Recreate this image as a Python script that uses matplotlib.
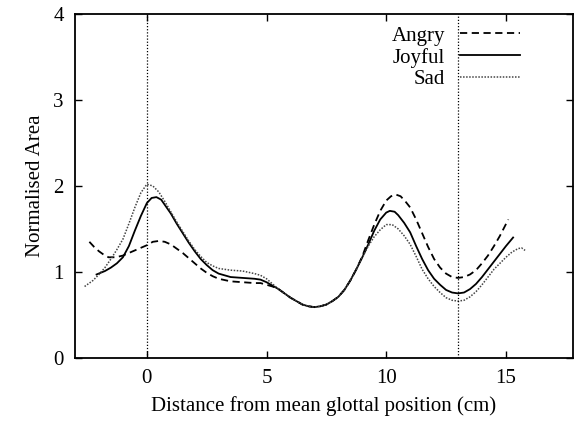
import matplotlib
matplotlib.use('Agg')
import matplotlib.pyplot as plt

plt.rcParams['font.family'] = ['Liberation Serif', 'DejaVu Serif']
plt.rcParams['font.size'] = 15

# values
# stretch where all three curves lie on top of each other
shared_x = [5.75, 6.0, 6.25, 6.5, 6.75, 7.0, 7.25, 7.5, 7.75, 8.0, 8.25, 8.5, 8.75]
shared_y = [0.75, 0.70, 0.66, 0.62, 0.60, 0.59, 0.60, 0.62, 0.66, 0.71, 0.79, 0.90, 1.03]

angry_x = ([-2.4, -2.2, -2.0, -1.8, -1.6, -1.3, -1.0, -0.5, 0.0, 0.25, 0.5, 0.75, 1.0, 1.25, 1.5,
            1.75, 2.0, 2.25, 2.5, 2.75, 3.0, 3.5, 4.0, 4.5, 4.75, 5.0, 5.25, 5.5] + shared_x +
           [9.0, 9.25, 9.5, 9.75, 10.0, 10.2, 10.4, 10.6, 10.8, 11.0, 11.25, 11.5, 11.75, 12.0,
            12.25, 12.5, 12.75, 13.0, 13.25, 13.5, 13.75, 14.0, 14.25, 14.5, 14.75, 15.1])
angry_y = ([1.35, 1.29, 1.24, 1.20, 1.17, 1.17, 1.19, 1.25, 1.31, 1.35, 1.36, 1.35, 1.32, 1.27, 1.22,
            1.16, 1.10, 1.04, 0.99, 0.95, 0.92, 0.89, 0.88, 0.87, 0.87, 0.85, 0.83, 0.80] + shared_y +
           [1.18, 1.37, 1.55, 1.71, 1.83, 1.88, 1.90, 1.88, 1.82, 1.75, 1.61, 1.45, 1.29, 1.15,
            1.05, 0.98, 0.94, 0.93, 0.94, 0.97, 1.02, 1.10, 1.19, 1.30, 1.42, 1.61])

joyful_x = ([-2.1, -1.75, -1.5, -1.25, -1.0, -0.75, -0.5, -0.25, 0.0, 0.2, 0.4, 0.6, 0.8, 1.0, 1.25,
             1.5, 1.75, 2.0, 2.25, 2.5, 2.75, 3.0, 3.5, 4.0, 4.5, 4.75, 5.0, 5.25, 5.5] + shared_x +
            [9.0, 9.25, 9.5, 9.75, 10.0, 10.15, 10.35, 10.5, 10.75, 11.0, 11.25, 11.5, 11.75, 12.0,
             12.25, 12.5, 12.75, 13.0, 13.25, 13.5, 13.75, 14.0, 14.25, 14.5, 14.75, 15.0, 15.3])
joyful_y = ([0.97, 1.01, 1.05, 1.10, 1.17, 1.30, 1.48, 1.65, 1.80, 1.86, 1.87, 1.84, 1.76, 1.68, 1.56,
             1.45, 1.34, 1.24, 1.15, 1.08, 1.02, 0.98, 0.94, 0.93, 0.92, 0.91, 0.88, 0.84, 0.80] + shared_y +
            [1.17, 1.32, 1.48, 1.61, 1.69, 1.71, 1.70, 1.66, 1.57, 1.46, 1.30, 1.15, 1.02, 0.92,
             0.85, 0.79, 0.76, 0.75, 0.76, 0.80, 0.86, 0.94, 1.03, 1.12, 1.21, 1.30, 1.40])

sad_x = ([-2.6, -2.25, -2.0, -1.75, -1.5, -1.25, -1.0, -0.75, -0.5, -0.25, 0.0, 0.25, 0.5, 0.75, 1.0,
          1.25, 1.5, 1.75, 2.0, 2.25, 2.5, 2.75, 3.0, 3.5, 4.0, 4.5, 4.75, 5.0, 5.25, 5.5] + shared_x +
         [9.0, 9.25, 9.5, 9.75, 10.0, 10.25, 10.5, 10.75, 11.0, 11.25, 11.5, 11.75, 12.0, 12.25,
          12.5, 12.75, 13.0, 13.25, 13.5, 13.75, 14.0, 14.25, 14.5, 14.75, 15.0, 15.25, 15.5, 15.65, 15.8])
sad_y = ([0.83, 0.90, 0.97, 1.05, 1.15, 1.26, 1.38, 1.56, 1.75, 1.92, 2.02, 2.00, 1.93, 1.82, 1.70,
          1.58, 1.47, 1.36, 1.26, 1.18, 1.11, 1.07, 1.04, 1.02, 1.01, 0.98, 0.96, 0.92, 0.86, 0.80] + shared_y +
         [1.17, 1.30, 1.41, 1.49, 1.55, 1.55, 1.50, 1.42, 1.32, 1.18, 1.03, 0.92, 0.83, 0.76,
          0.70, 0.67, 0.66, 0.67, 0.71, 0.77, 0.85, 0.94, 1.03, 1.10, 1.17, 1.23, 1.27, 1.28, 1.25])

markers_x = [0, 13]
x_ticks = [0, 5, 10, 15]
y_ticks = [0, 1, 2, 3, 4]

fig = plt.figure(figsize=(5.77, 4.25), dpi=100)
ax = fig.add_axes([0.130, 0.158, 0.863, 0.809])

ax.plot(angry_x, angry_y, color='black', lw=1.3, linestyle=(0, (4, 2.5)), label='Angry')
ax.plot(joyful_x, joyful_y, color='black', lw=1.3, linestyle='-', label='Joyful')
ax.plot(sad_x, sad_y, color='#444444', lw=1.1, linestyle=(0, (1, 1)), label='Sad')

for xm in markers_x:
    ax.axvline(xm, color='black', lw=0.9, linestyle=(0, (1, 1.5)))

ax.set_xlim(-3, 17.8)
ax.set_ylim(0, 4)
ax.set_xticks(x_ticks)
ax.set_yticks(y_ticks)
ax.tick_params(direction='in', length=5, width=1, top=True, right=True, pad=8)
for s in ax.spines.values():
    s.set_linewidth(1.3)

ax.set_xlabel('Distance from mean glottal position (cm)', labelpad=6)
ax.set_ylabel('Normalised Area', labelpad=6)

ax.legend(loc='upper right', bbox_to_anchor=(0.894, 0.965), markerfirst=False, frameon=False,
          handlelength=2.9, handletextpad=0.7, labelspacing=0.1, borderpad=0, borderaxespad=0)

fig.savefig('out.png', dpi=100)
